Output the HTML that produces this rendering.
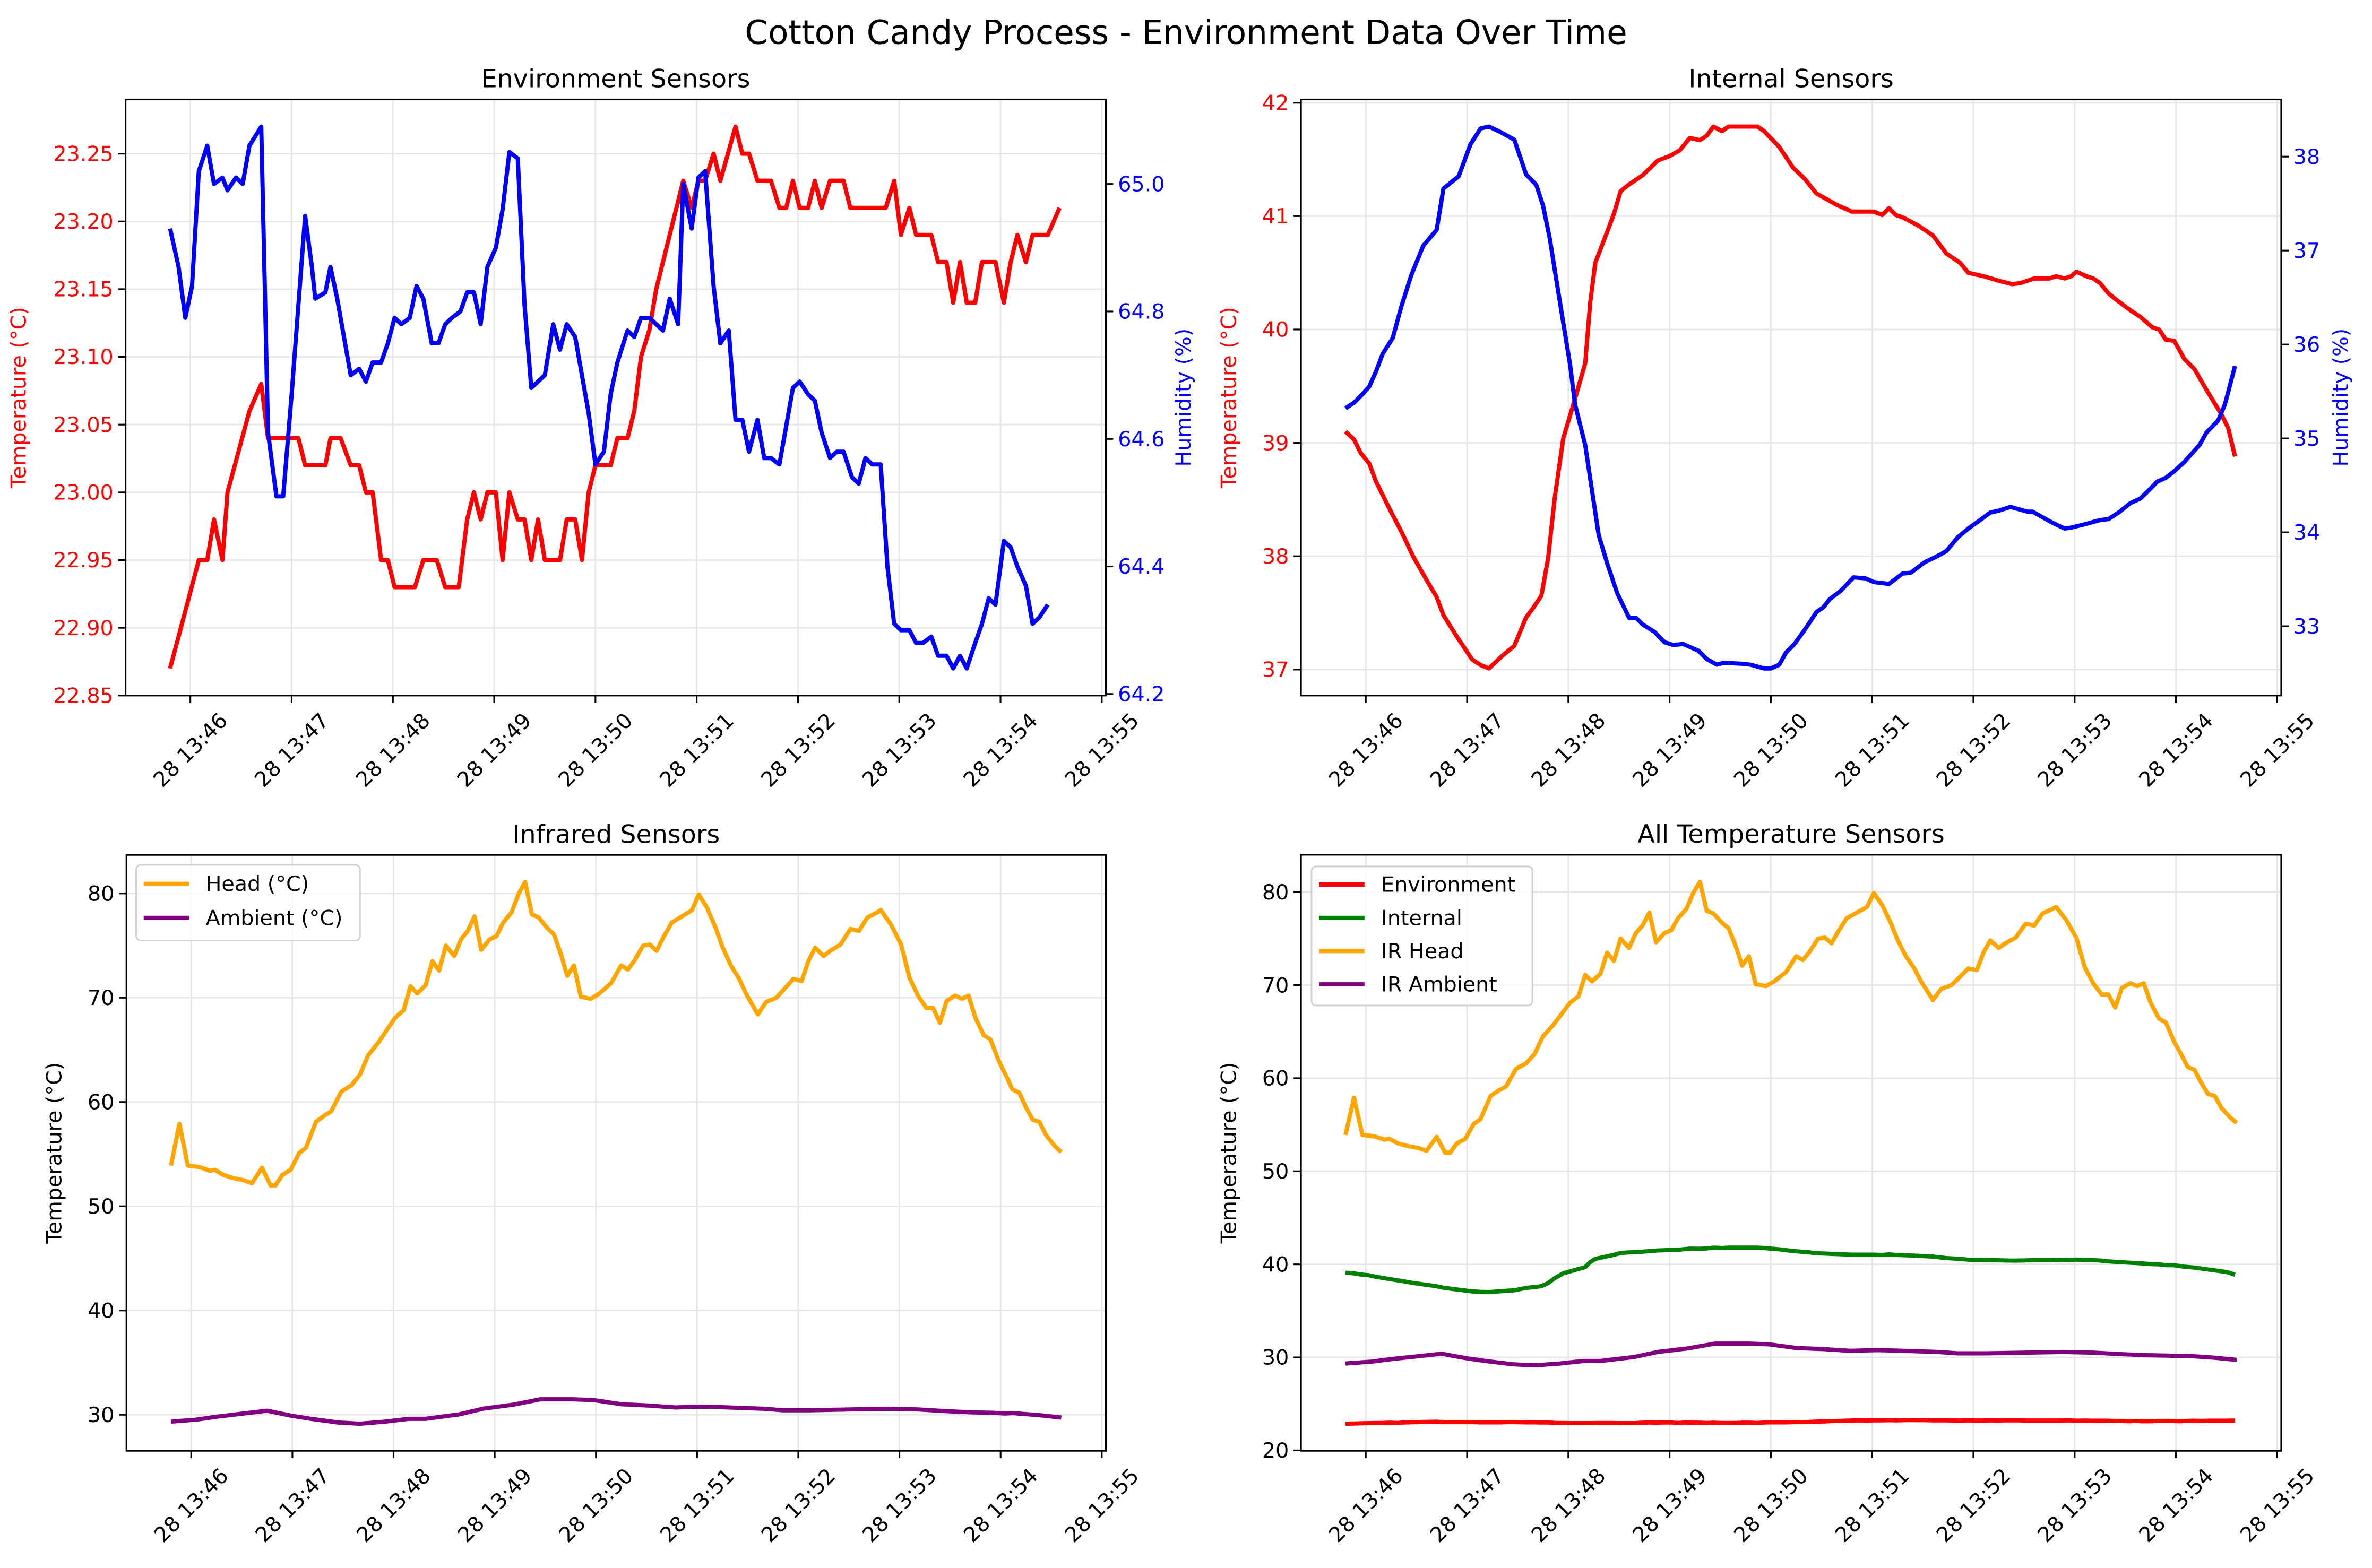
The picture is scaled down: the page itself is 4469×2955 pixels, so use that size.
<!DOCTYPE html>
<html><head><meta charset="utf-8"><title>Cotton Candy Process - Environment Data Over Time</title>
<style>html,body{margin:0;padding:0;background:#fff}svg{display:block}text{font-family:"DejaVu Sans","Liberation Sans",sans-serif}</style>
</head><body>
<svg id="fig" xmlns="http://www.w3.org/2000/svg" width="4469" height="2955" viewBox="0 0 1568 1037" preserveAspectRatio="none">
<rect x="0" y="0" width="1568" height="1037" fill="#fff"/>
<text x="784" y="29" font-size="22" text-anchor="middle" fill="#000">Cotton Candy Process - Environment Data Over Time</text>
</svg>
<script>
// ---- data (time in seconds after 13:45:00) ----
const tickTimes=[60,120,180,240,300,360,420,480,540,600];
const tickLabels=["28 13:46","28 13:47","28 13:48","28 13:49","28 13:50","28 13:51","28 13:52","28 13:53","28 13:54","28 13:55"];
const envTempT=[48,65,70,74,79,82,95,102,106,124,128,140,143,149,155,160,164,168,173,177,181,193,198,206,211,219,224,228,232,236,241,245,249,254,258,262,266,270,279,283,288,292,296,300,309,313,319,323,327,332,336,340,352,357,361,365,370,374,383,387,391,396,404,409,413,417,421,426,430,434,439,447,451,472,477,481,486,490,499,503,508,512,516,520,525,529,537,542,546,550,555,559,568,575];
const envTempV=[22.87,22.95,22.95,22.98,22.95,23.00,23.06,23.08,23.04,23.04,23.02,23.02,23.04,23.04,23.02,23.02,23.00,23.00,22.95,22.95,22.93,22.93,22.95,22.95,22.93,22.93,22.98,23.00,22.98,23.00,23.00,22.95,23.00,22.98,22.98,22.95,22.98,22.95,22.95,22.98,22.98,22.95,23.00,23.02,23.02,23.04,23.04,23.06,23.10,23.12,23.15,23.17,23.23,23.21,23.23,23.23,23.25,23.23,23.27,23.25,23.25,23.23,23.23,23.21,23.21,23.23,23.21,23.21,23.23,23.21,23.23,23.23,23.21,23.21,23.23,23.19,23.21,23.19,23.19,23.17,23.17,23.14,23.17,23.14,23.14,23.17,23.17,23.14,23.17,23.19,23.17,23.19,23.19,23.21];
const envHumT=[48,53,57,61,65,70,74,79,82,87,91,95,102,106,111,115,120,128,132,134,140,143,147,151,155,160,164,168,173,177,181,185,190,194,198,203,207,211,215,220,224,228,232,236,241,245,249,254,258,262,266,270,275,279,283,288,292,296,300,305,309,313,319,323,327,332,336,340,344,349,352,357,361,365,370,374,379,383,387,391,396,400,404,409,413,417,421,426,430,434,439,443,447,452,456,460,464,469,473,477,481,486,490,494,499,503,508,512,516,520,525,529,533,537,542,546,550,555,559,563,568,575];
const envHumV=[64.93,64.87,64.79,64.84,65.02,65.06,65.00,65.01,64.99,65.01,65.00,65.06,65.09,64.61,64.51,64.51,64.67,64.95,64.87,64.82,64.83,64.87,64.82,64.76,64.70,64.71,64.69,64.72,64.72,64.75,64.79,64.78,64.79,64.84,64.82,64.75,64.75,64.78,64.79,64.80,64.83,64.83,64.78,64.87,64.90,64.96,65.05,65.04,64.81,64.68,64.69,64.70,64.78,64.74,64.78,64.76,64.70,64.64,64.56,64.58,64.67,64.72,64.77,64.76,64.79,64.79,64.78,64.77,64.82,64.78,65.00,64.93,65.01,65.02,64.84,64.75,64.77,64.63,64.63,64.58,64.63,64.57,64.57,64.56,64.62,64.68,64.69,64.67,64.66,64.61,64.57,64.58,64.58,64.54,64.53,64.57,64.56,64.56,64.40,64.31,64.30,64.30,64.28,64.28,64.29,64.26,64.26,64.24,64.26,64.24,64.28,64.31,64.35,64.34,64.44,64.43,64.40,64.37,64.31,64.32,64.34];
const intTempT=[48,53,57,62,66,70,75,81,88,96,102,106,114,123,128,133,140,148,155,159,164,168,172,177,183,190,193,196,203,207,211,216,224,233,240,246,252,258,262,266,271,275,292,296,305,313,320,327,339,348,361,366,370,374,378,387,396,404,412,417,426,435,443,448,456,465,469,474,478,481,487,491,495,500,504,513,519,526,530,534,539,545,551,558,567,571,575];
const intTempV=[39.10,39.03,38.91,38.82,38.66,38.54,38.39,38.22,38.00,37.79,37.64,37.48,37.29,37.09,37.04,37.01,37.11,37.21,37.46,37.54,37.65,37.98,38.52,39.04,39.34,39.70,40.24,40.59,40.86,41.02,41.22,41.28,41.36,41.49,41.53,41.58,41.69,41.67,41.71,41.79,41.75,41.79,41.79,41.75,41.61,41.43,41.33,41.20,41.10,41.04,41.04,41.01,41.07,41.01,40.99,40.92,40.83,40.67,40.59,40.50,40.47,40.43,40.40,40.41,40.45,40.45,40.47,40.45,40.47,40.51,40.47,40.45,40.41,40.32,40.27,40.17,40.11,40.02,40.00,39.91,39.90,39.74,39.65,39.47,39.25,39.13,38.88];
const intHumT=[48,53,58,62,66,70,76,81,87,94,102,106,115,122,128,133,140,148,155,161,165,169,172,177,181,184,190,194,198,203,209,216,220,224,231,237,242,248,257,262,268,272,283,288,296,300,305,309,314,320,327,331,335,341,349,356,361,370,378,383,391,398,404,411,417,424,430,435,442,448,452,455,461,467,474,478,487,495,500,506,513,519,523,529,534,539,545,554,558,565,569,575];
const intHumV=[35.32,35.38,35.47,35.55,35.71,35.90,36.07,36.40,36.74,37.05,37.22,37.66,37.79,38.13,38.30,38.32,38.26,38.18,37.81,37.70,37.48,37.13,36.79,36.23,35.79,35.36,34.93,34.45,33.97,33.67,33.35,33.09,33.09,33.02,32.94,32.83,32.80,32.81,32.74,32.65,32.59,32.61,32.60,32.59,32.55,32.55,32.59,32.72,32.81,32.96,33.15,33.20,33.29,33.37,33.52,33.51,33.47,33.45,33.56,33.57,33.68,33.74,33.80,33.95,34.04,34.13,34.21,34.23,34.27,34.24,34.22,34.22,34.16,34.10,34.04,34.05,34.09,34.13,34.14,34.21,34.31,34.36,34.43,34.54,34.58,34.65,34.75,34.93,35.06,35.19,35.36,35.77];
const irHeadT=[48,53,58,63,66,71,74,79,85,91,96,102,107,110,114,119,124,128,134,139,143,149,155,160,165,171,176,181,186,190,194,199,203,207,211,216,220,224,228,232,237,241,245,250,254,258,262,266,271,275,279,283,287,291,297,302,309,315,319,323,328,332,336,340,345,351,357,361,366,371,375,380,385,389,396,401,407,411,417,422,426,430,435,439,445,451,456,461,467,469,475,481,486,491,496,500,504,508,513,517,521,525,530,534,539,543,547,551,555,559,563,567,572,576];
const irHeadV=[53.9,57.9,53.9,53.8,53.7,53.4,53.5,53.0,52.7,52.5,52.2,53.7,52.0,52.0,53.0,53.5,55.1,55.6,58.1,58.7,59.1,61.0,61.6,62.6,64.5,65.7,66.9,68.1,68.8,71.1,70.4,71.2,73.5,72.6,75.0,74.0,75.6,76.4,77.8,74.6,75.6,75.9,77.2,78.2,79.9,81.1,78.0,77.7,76.7,76.1,74.3,72.1,73.1,70.1,69.9,70.4,71.4,73.1,72.7,73.6,75.0,75.1,74.5,75.8,77.2,77.8,78.4,79.9,78.6,76.7,74.9,73.1,71.8,70.4,68.4,69.6,70.0,70.7,71.8,71.6,73.5,74.8,74.0,74.5,75.1,76.6,76.4,77.7,78.2,78.4,77.0,75.1,71.9,70.2,69.0,69.0,67.6,69.7,70.2,69.9,70.2,68.1,66.4,66.0,63.9,62.6,61.2,60.9,59.5,58.3,58.1,56.8,55.8,55.2];
const irAmbT=[48,63,75,91,105,119,131,147,160,175,189,199,219,233,251,267,287,299,315,331,347,363,379,399,411,427,451,473,491,507,523,535,543,547,563,576];
const irAmbV=[29.34,29.53,29.81,30.12,30.39,29.92,29.61,29.26,29.14,29.34,29.61,29.61,30.04,30.58,30.97,31.48,31.48,31.40,31.01,30.89,30.70,30.78,30.70,30.58,30.43,30.43,30.51,30.58,30.51,30.35,30.23,30.19,30.12,30.16,29.96,29.73];
const envTicks=[22.85,22.90,22.95,23.00,23.05,23.10,23.15,23.20,23.25];
const envHumTicks=[64.2,64.4,64.6,64.8,65.0];
const intTicks=[37,38,39,40,41,42];
const intHumTicks=[33,34,35,36,37,38];
const irTicks=[30,40,50,60,70,80];
const allTicks=[20,30,40,50,60,70,80];

const XMIN=21.6, XMAX=602.4;
const NS="http://www.w3.org/2000/svg";
const fig=document.getElementById('fig');
function mk(tag,attrs,parent){const e=document.createElementNS(NS,tag);for(const k in attrs)e.setAttribute(k,attrs[k]);(parent||fig).appendChild(e);return e;}
function lim(arrs,pad){let lo=Infinity,hi=-Infinity;arrs.forEach(a=>a.forEach(v=>{lo=Math.min(lo,v);hi=Math.max(hi,v);}));const r=hi-lo;return [lo-r*pad,hi+r*pad];}
function sx(p,t){return p.x0+(t-XMIN)/(XMAX-XMIN)*(p.x1-p.x0);}
function sy(p,v,l){return p.y1-(v-l[0])/(l[1]-l[0])*(p.y1-p.y0);}
function fmt(v,d){return v.toFixed(d);}

function panel(p){
  const g=mk('g',{});
  
  
  // grid
  tickTimes.forEach(t=>{const x=sx(p,t);const l=mk('line',{x1:x,x2:x,y1:p.y0,y2:p.y1,stroke:'#e6e6e6','stroke-width':1},g);
    
    });
  p.lticks.forEach(v=>{const y=sy(p,v,p.llim);const l=mk('line',{x1:p.x0,x2:p.x1,y1:y,y2:y,stroke:'#e6e6e6','stroke-width':1},g);
    
    });
  // series
  p.series.forEach(s=>{
    const L=s.right?p.rlim:p.llim;
    let d='';for(let i=0;i<s.t.length;i++){d+=(i?'L':'M')+sx(p,s.t[i]).toFixed(2)+','+sy(p,s.v[i],L).toFixed(2);}
    const path=mk('path',{d:d,fill:'none',stroke:s.c,'stroke-width':2.8,'stroke-linejoin':'round'},g);
    
    
  });
  const fr=mk('rect',{x:p.x0,y:p.y0,width:p.x1-p.x0,height:p.y1-p.y0,fill:'none',stroke:'#000','stroke-width':1.1},g);
  
  
  // x ticks
  tickTimes.forEach((t,i)=>{const x=sx(p,t);
    const tk=mk('line',{x1:x,x2:x,y1:p.y1,y2:p.y1+4.9,stroke:'#000','stroke-width':1.1},g);
    
    
    const cy=p.y1+36;
    const tx=mk('text',{x:x,y:cy+4.8,'font-size':13.9,'text-anchor':'middle',fill:'#000',transform:'rotate(-45 '+x+' '+cy+')'},g);
    tx.textContent=tickLabels[i];
    
    
  });
  // left ticks
  p.lticks.forEach(v=>{const y=sy(p,v,p.llim);
    const tk=mk('line',{x1:p.x0-4.9,x2:p.x0,y1:y,y2:y,stroke:'#000','stroke-width':1.1},g);
    
    
    const tx=mk('text',{x:p.x0-8,y:y+4.8,'font-size':13.9,'text-anchor':'end',fill:p.lc},g);
    tx.textContent=fmt(v,p.ld);
    
    
  });
  if(p.rticks){p.rticks.forEach(v=>{const y=sy(p,v,p.rlim);
    const tk=mk('line',{x1:p.x1,x2:p.x1+4.9,y1:y,y2:y,stroke:'#000','stroke-width':1.1},g);
    
    
    const tx=mk('text',{x:p.x1+8,y:y+4.8,'font-size':13.9,'text-anchor':'start',fill:p.rc},g);
    tx.textContent=fmt(v,p.rd);
    
    
  });
    const my=(p.y0+p.y1)/2, rx=p.x1+p.rlx;
    const rl=mk('text',{x:rx,y:my,'font-size':13.9,'text-anchor':'middle',fill:p.rc,transform:'rotate(-90 '+rx+' '+my+')'},g);
    rl.textContent=p.rlabel;
    
    
  }
  const my=(p.y0+p.y1)/2, lx=p.x0-p.llx;
  const ll=mk('text',{x:lx,y:my,'font-size':13.9,'text-anchor':'middle',fill:p.lc,transform:'rotate(-90 '+lx+' '+my+')'},g);
  ll.textContent='Temperature (°C)';
  
  
  const ti=mk('text',{x:(p.x0+p.x1)/2,y:p.y0-8,'font-size':16.7,'text-anchor':'middle',fill:'#000'},g);
  ti.textContent=p.title;
  
  
  if(p.legend){
    const L=p.legend;
    const box=mk('rect',{x:L.x,y:L.y,width:L.w,height:L.h,rx:3,fill:'#fff','fill-opacity':0.8,stroke:'#d0d0d0','stroke-width':1},g);
    
    
    L.items.forEach((it,i)=>{const y=L.y+L.first+i*L.step;
      const ln=mk('line',{x1:L.x+5,x2:L.x+35,y1:y,y2:y,stroke:it[1],'stroke-width':2.8},g);
      
      
      const tx=mk('text',{x:L.x+46,y:y+4.8,'font-size':13.9,fill:'#000'},g);
      tx.textContent=it[0];
      
      
    });
  }
}

panel({name:'environment-sensors-panel',title:'Environment Sensors',x0:83,x1:731,y0:65.8,y1:460,
  llim:lim([envTempV],0.05),rlim:lim([envHumV],0.05),lticks:envTicks,rticks:envHumTicks,ld:2,rd:1,lc:'#ff0000',rc:'#0000ff',
  llx:66,rlx:56,rlabel:'Humidity (%)',
  series:[{n:'env-temperature-line',t:envTempT,v:envTempV,c:'#ff0000'},{n:'env-humidity-line',t:envHumT,v:envHumV,c:'#0000ff',right:true}]});
panel({name:'internal-sensors-panel',title:'Internal Sensors',x0:860,x1:1508,y0:65.8,y1:460,
  llim:lim([intTempV],0.05),rlim:lim([intHumV],0.05),lticks:intTicks,rticks:intHumTicks,ld:0,rd:0,lc:'#ff0000',rc:'#0000ff',
  llx:43,rlx:44,rlabel:'Humidity (%)',
  series:[{n:'internal-temperature-line',t:intTempT,v:intTempV,c:'#ff0000'},{n:'internal-humidity-line',t:intHumT,v:intHumV,c:'#0000ff',right:true}]});
panel({name:'infrared-sensors-panel',title:'Infrared Sensors',x0:83.6,x1:731,y0:565.4,y1:959.5,
  llim:lim([irHeadV,irAmbV],0.05),lticks:irTicks,ld:0,lc:'#000',llx:43,
  legend:{x:90,y:572,w:148,h:50,first:12.5,step:22.5,items:[['Head (°C)','#ffa500'],['Ambient (°C)','#800080']]},
  series:[{n:'ir-head-line',t:irHeadT,v:irHeadV,c:'#ffa500'},{n:'ir-ambient-line',t:irAmbT,v:irAmbV,c:'#800080'}]});
panel({name:'all-temperature-panel',title:'All Temperature Sensors',x0:860,x1:1508,y0:565.3,y1:959.5,
  llim:lim([envTempV,intTempV,irHeadV,irAmbV],0.05),lticks:allTicks,ld:0,lc:'#000',llx:43,
  legend:{x:867,y:573,w:146,h:92,first:12,step:22,items:[['Environment','#ff0000'],['Internal','#008000'],['IR Head','#ffa500'],['IR Ambient','#800080']]},
  series:[{n:'all-environment-line',t:envTempT,v:envTempV,c:'#ff0000'},{n:'all-internal-line',t:intTempT,v:intTempV,c:'#008000'},{n:'all-ir-head-line',t:irHeadT,v:irHeadV,c:'#ffa500'},{n:'all-ir-ambient-line',t:irAmbT,v:irAmbV,c:'#800080'}]});
</script>
</body></html>
